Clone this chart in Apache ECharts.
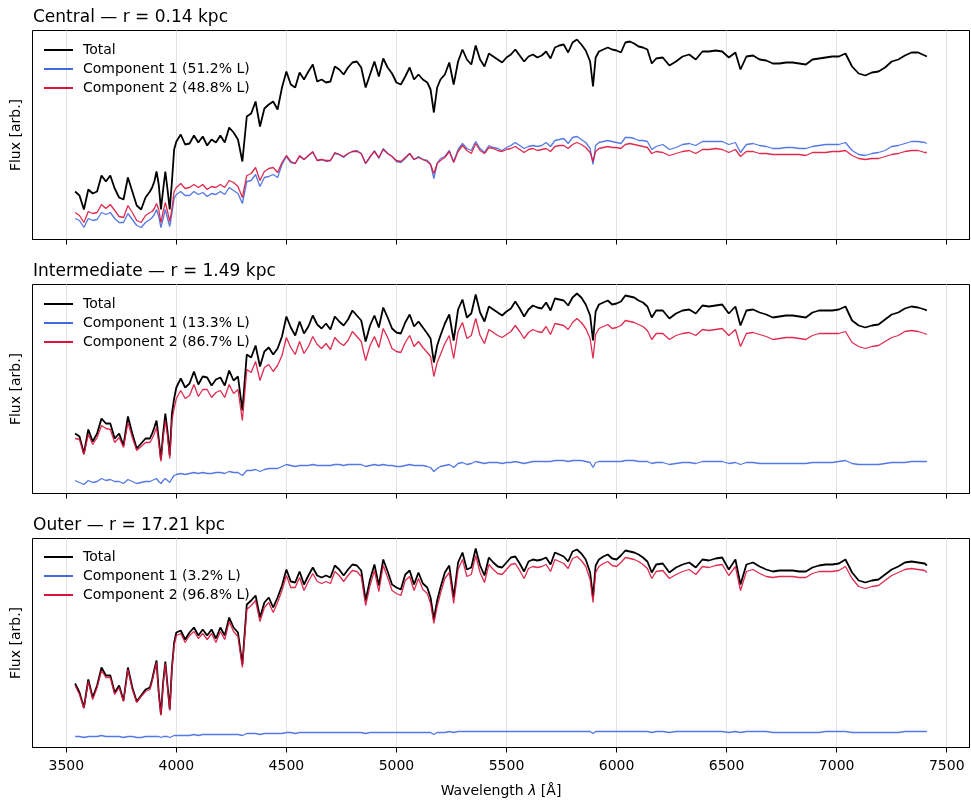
<!DOCTYPE html>
<html><head><meta charset="utf-8">
<script src="https://cdn.jsdelivr.net/npm/echarts@6/dist/echarts.min.js"></script>
<style>html,body{margin:0;padding:0;background:#fff}#c{width:971px;height:800px}</style>
</head><body><div id="c"></div>
<script>
// Wavelength grid (Angstrom)
const wave = [3540,3560,3580,3600,3620,3640,3660,3680,3700,3720,3740,3760,3780,3800,3820,3840,3860,3880,
3890,3900,3910,3920,3930,3940,3950,3960,3970,3980,3990,4000,
4020,4040,4060,4080,4100,4120,4140,4160,4180,4200,4220,4240,4260,4280,4300,4320,4340,4360,4380,4400,4420,4440,4460,4480,4500,4520,4540,4560,4580,4600,4620,4640,4660,4680,4700,4720,4740,4760,4780,4800,4820,4840,4860,4880,4900,4920,4940,4960,4980,5000,5020,5040,5060,5080,5100,5120,5140,
5155,5170,5185,
5200,5220,5240,5260,5280,5300,5320,5340,5360,5380,5400,5420,5440,5460,5480,5500,5520,5540,5560,5580,5600,5620,5640,5660,5680,5700,5720,5740,5760,5780,5800,5820,5840,5860,
5880,5893,5905,
5920,5940,5960,5980,6000,6020,6040,6060,6080,6100,6120,6140,6160,6180,
6210,6240,6270,6300,6330,6360,6390,6420,6450,6480,6510,6540,
6563,
6590,6620,6650,6680,6710,6740,6770,6800,6830,6860,6890,6920,6950,6980,7010,7040,7070,7100,7130,7160,7190,7220,7250,7280,7310,7340,7370,7400,
7410];

const xTicks = [3500,4000,4500,5000,5500,6000,6500,7000,7500];
const panelTitles = ['Central \u2014 r = 0.14 kpc','Intermediate \u2014 r = 1.49 kpc','Outer \u2014 r = 17.21 kpc'];
const comp1Names = ['Component 1 (51.2% L)','Component 1 (13.3% L)','Component 1 (3.2% L)'];
const comp2Names = ['Component 2 (48.8% L)','Component 2 (86.7% L)','Component 2 (96.8% L)'];

// Panel 1 (Central)
const total1 = [48,44,30,50,46,48,64,58,64,51,42,40,62,48,34,30,42,48,
52,58,68,55,30,50,68,50,30,58,90,98,
105,95,96,104,97,103,94,100,97,104,97,112,107,100,78,123,126,138,113,131,135,138,130,152,168,155,152,167,160,168,175,158,160,157,158,173,170,165,172,177,178,172,152,165,178,163,181,172,166,157,155,163,172,160,165,160,157,
150,127,152,
160,165,177,155,178,190,180,175,194,180,173,186,183,180,177,182,185,190,184,178,183,185,182,184,188,181,192,194,195,187,197,200,195,189,
178,153,182,
188,190,192,190,189,187,197,198,196,193,192,190,176,181,
182,174,178,183,185,180,188,188,189,188,182,187,
170,
183,184,180,179,176,176,177,177,176,175,180,181,182,183,183,186,173,166,164,167,168,172,178,180,184,187,187,184,
183];
const comp1_1 = [21,19,12,21,19,20,27,25,27,21,17,17,26,20,14,12,17,20,
22,25,30,23,12,21,30,21,13,26,41,45,
48,44,44,48,45,47,43,46,45,48,45,52,49,46,36,58,59,65,53,62,63,65,62,75,83,77,76,83,80,84,87,79,80,78,79,86,85,82,86,88,89,86,76,82,89,81,91,86,83,78,77,81,86,80,83,80,79,
75,61,76,
81,83,89,78,90,96,91,89,98,91,87,94,92,91,89,92,94,97,94,91,93,94,93,94,97,93,99,100,101,96,102,103,100,97,
91,75,94,
97,98,99,98,97,96,102,102,101,99,99,98,90,93,
95,90,92,95,96,94,98,98,98,98,95,97,
87,
95,96,94,93,91,91,92,92,91,91,93,94,95,95,95,97,89,85,84,86,87,89,93,94,96,98,98,97,
96];
const comp2_1 = [27,24,17,28,26,27,35,31,35,29,23,22,34,27,19,17,24,27,
28,31,36,30,17,28,37,28,18,31,48,52,
56,51,52,55,52,55,50,53,52,55,52,59,57,53,42,64,66,72,59,68,71,72,67,77,84,78,76,84,80,84,88,79,80,79,79,87,85,83,86,88,88,86,76,83,88,82,90,86,83,79,78,82,86,80,82,80,78,
75,66,76,
79,82,88,77,88,94,89,86,96,89,86,92,91,89,88,90,91,93,90,87,90,91,89,90,91,88,93,94,94,91,95,97,95,92,
87,78,88,
91,92,93,92,92,91,95,96,95,94,93,92,86,88,
87,84,86,88,89,86,90,90,91,90,87,90,
83,
88,88,86,86,85,85,85,85,85,84,87,87,87,88,88,89,84,81,80,81,81,83,85,86,88,89,89,87,
87];

// Panel 2 (Intermediate)
const total2 = [60,57,40,64,52,60,75,70,70,55,60,48,77,60,45,50,55,55,
60,66,73,55,34,60,80,62,38,80,95,106,
115,106,110,122,109,117,116,108,114,116,108,123,113,117,83,139,136,148,127,142,146,139,145,157,177,166,158,172,160,167,178,169,165,170,164,177,172,168,174,183,178,173,152,168,178,166,186,176,165,161,160,171,179,167,172,166,160,
155,131,148,
158,170,179,153,184,194,176,180,199,181,172,187,184,181,178,182,185,192,185,177,184,188,186,185,191,183,195,194,193,188,196,200,196,189,
178,153,182,
189,191,193,189,190,192,198,197,196,193,191,187,176,183,
183,175,180,183,184,180,188,187,188,189,180,187,
168,
183,184,181,179,176,177,178,178,177,176,181,183,183,183,184,187,173,168,166,168,169,174,179,181,185,187,186,184,
183];
const comp1_2 = [13,11,9,13,11,12,15,13,14,12,12,10,14,12,10,11,12,12,
13,14,15,12,10,13,15,13,11,15,18,19,
20,19,20,21,20,21,20,20,21,21,20,22,21,21,18,23,23,24,22,24,25,25,25,27,29,28,27,28,28,28,29,28,28,28,28,29,29,28,29,29,29,29,27,28,29,28,29,28,28,27,27,28,29,28,28,28,27,
26,22,25,
27,28,29,26,30,31,29,30,32,31,30,31,31,31,30,31,31,32,31,30,31,32,32,32,32,32,33,33,33,32,33,33,33,32,
31,26,31,
32,32,32,32,32,32,33,33,33,32,32,32,30,31,
31,29,30,31,31,30,32,32,32,32,30,31,
29,
31,31,30,30,30,30,30,30,30,30,31,31,31,31,32,33,30,29,29,29,29,30,31,31,31,32,32,32,
32];
const comp2_2 = [55,54,39,59,49,56,68,65,64,51,56,46,71,56,43,47,51,51,
55,60,66,51,32,55,73,57,35,73,85,95,
103,95,98,109,97,104,104,96,101,103,96,109,100,104,73,124,121,132,113,126,129,122,128,138,156,146,139,152,140,147,157,149,145,150,144,156,151,148,153,162,157,152,133,148,157,146,165,156,145,142,141,151,158,147,152,146,141,
137,117,131,
139,150,158,135,162,171,155,158,175,158,150,164,161,158,156,159,162,168,162,155,161,164,162,161,167,159,170,169,168,164,171,175,171,165,
155,135,159,
165,167,169,165,166,168,173,172,171,169,167,163,154,160,
160,154,158,160,161,158,164,163,164,165,158,164,
147,
160,161,159,157,154,155,156,156,155,154,158,160,160,160,160,162,151,147,145,147,148,152,156,158,162,163,162,160,
159];

// Panel 3 (Outer)
const total3 = [64,55,40,68,50,62,80,72,72,55,62,47,80,60,46,52,58,60,
68,78,87,55,33,65,86,62,38,80,105,115,
117,108,115,120,112,118,112,118,109,120,112,130,120,115,83,143,147,152,130,145,150,140,150,162,178,166,165,176,163,172,180,172,170,172,170,182,178,172,178,183,182,177,147,168,183,162,188,176,163,160,158,173,177,163,175,164,160,
150,128,147,
160,175,182,150,185,195,178,180,199,182,172,190,185,181,180,185,190,191,184,176,186,188,187,188,190,183,195,193,191,186,196,198,194,188,
175,150,182,
188,191,193,189,188,192,197,196,195,193,190,186,175,183,
184,175,180,183,185,180,188,187,189,190,178,188,
163,
183,185,181,178,176,177,177,177,176,176,180,182,183,183,184,188,175,167,165,167,168,173,178,181,185,186,185,184,
182];
const comp1_3 = [11,11,10,11,11,11,12,11,11,11,11,10,11,11,10,10,11,11,
11,11,11,11,10,11,11,11,10,11,12,12,
12,12,12,13,12,13,13,13,13,13,13,13,13,13,12,14,14,14,13,14,14,14,14,14,15,15,14,15,15,15,15,15,15,15,15,15,15,15,15,15,15,15,14,15,15,15,15,15,15,15,15,15,15,15,15,15,15,
15,13,15,
15,15,16,15,16,16,16,16,16,16,16,16,16,16,16,16,16,16,16,16,16,16,16,16,16,16,16,16,16,16,16,16,16,16,
16,14,16,
16,16,16,16,16,16,16,16,16,16,16,16,15,16,
16,15,16,16,16,16,16,16,16,16,15,16,
15,
16,16,16,16,15,15,15,15,15,15,15,15,16,16,16,16,15,15,15,15,15,15,15,15,16,16,16,16,
16];
const comp2_3 = [62,53,39,66,48,60,77,70,70,53,60,46,78,58,45,51,56,58,
66,76,85,53,32,63,84,60,37,78,102,112,
114,105,112,116,109,114,108,114,105,116,108,126,116,111,80,138,142,147,126,140,145,135,145,157,172,160,160,170,157,166,174,166,164,166,164,176,172,166,172,177,176,171,142,162,177,156,182,170,157,154,152,167,171,157,169,158,154,
144,124,141,
154,169,175,144,178,188,171,173,192,175,165,183,178,174,173,178,183,184,177,169,179,181,180,181,183,176,188,186,184,179,189,191,187,181,
168,145,175,
181,184,186,182,181,185,190,189,188,186,183,179,169,176,
177,169,173,176,178,173,181,180,182,183,172,181,
157,
176,178,174,171,170,171,171,171,170,170,174,176,176,176,177,181,169,161,159,161,162,167,172,175,178,179,178,177,
175];

const totals = [total1, total2, total3];
const comp1s = [comp1_1, comp1_2, comp1_3];
const comp2s = [comp2_1, comp2_2, comp2_3];

const FONT = 'DejaVu Sans';
const tops = [30.5, 284.5, 538.5];
const titleTops = [9, 263, 517];
const legendTops = [43, 297, 550];
const H = 209;

const zip = v => wave.map((w, k) => [w, v[k]]);

const grids = [], xAxes = [], yAxes = [], series = [], titles = [], legends = [];
for (let i = 0; i < 3; i++) {
  grids.push({left: 32.5, top: tops[i], width: 937, height: H, show: true,
    borderColor: '#000', borderWidth: 1, backgroundColor: 'transparent'});
  xAxes.push({gridIndex: i, type: 'value', min: 3346.5, max: 7603.5,
    axisLine: {show: true, onZero: false, lineStyle: {color: '#000', width: 1}},
    axisTick: {show: true, inside: false, length: 5, customValues: xTicks, lineStyle: {color: '#000', width: 1}},
    axisLabel: {show: i === 2, customValues: xTicks, color: '#000', fontSize: 14, fontFamily: FONT, margin: 12,
      formatter: v => String(v)},
    splitLine: {show: true, lineStyle: {color: '#e3e3e3', width: 1}},
    name: i === 2 ? 'Wavelength {i|\u03bb} [\u00c5]' : '', nameLocation: 'middle', nameGap: 37,
    nameTextStyle: {fontSize: 14, color: '#000', fontFamily: FONT,
      rich: {i: {fontStyle: 'italic', fontSize: 14, color: '#000', fontFamily: FONT}}}
  });
  yAxes.push({gridIndex: i, type: 'value', min: 0, max: H,
    axisLine: {show: false}, axisTick: {show: false}, axisLabel: {show: false}, splitLine: {show: false},
    name: 'Flux [arb.]', nameLocation: 'middle', nameGap: 9,
    nameTextStyle: {fontSize: 14, color: '#000', fontFamily: FONT}});
  titles.push({text: panelTitles[i], left: 33, top: titleTops[i], padding: 0,
    textStyle: {fontSize: 17, fontWeight: 'normal', color: '#000', fontFamily: FONT}});
  legends.push({data: ['Total', comp1Names[i], comp2Names[i]], orient: 'vertical', left: 44, top: legendTops[i],
    padding: 0, itemGap: 5, itemWidth: 29, itemHeight: 2, icon: 'rect', selectedMode: false,
    textStyle: {fontSize: 14, color: '#000', fontFamily: FONT, padding: [0, 0, 0, 5]}});
  const common = {type: 'line', xAxisIndex: i, yAxisIndex: i, showSymbol: false, symbol: 'none', animation: false, silent: true};
  series.push(Object.assign({}, common, {name: 'Total', data: zip(totals[i]), color: '#000000', lineStyle: {color: '#000000', width: 1.8}, z: 2}));
  series.push(Object.assign({}, common, {name: comp1Names[i], data: zip(comp1s[i]), color: '#4169e1', lineStyle: {color: '#4169e1', width: 1.3, opacity: 0.9}, z: 3}));
  series.push(Object.assign({}, common, {name: comp2Names[i], data: zip(comp2s[i]), color: '#dc143c', lineStyle: {color: '#dc143c', width: 1.3, opacity: 0.9}, z: 4}));
}

const chart = echarts.init(document.getElementById('c'), null, {renderer: 'canvas'});
chart.setOption({animation: false, backgroundColor: '#ffffff', title: titles, legend: legends,
  grid: grids, xAxis: xAxes, yAxis: yAxes, series: series});
</script></body></html>
